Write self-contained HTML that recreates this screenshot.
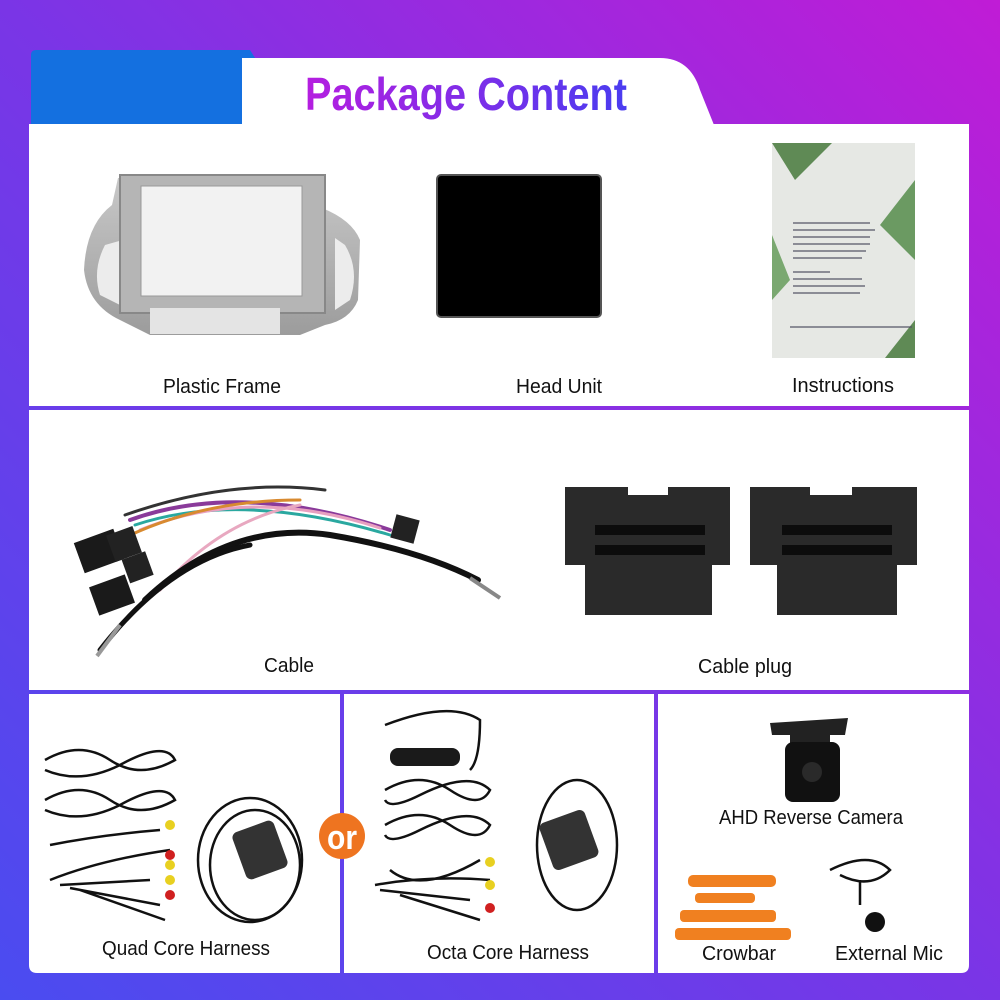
<!DOCTYPE html>
<html><head><meta charset="utf-8"><style>
html,body{margin:0;padding:0;width:1000px;height:1000px;overflow:hidden}
svg{display:block}
text{font-family:"Liberation Sans Narrow","Liberation Sans",sans-serif;font-size:20px;fill:#111;text-anchor:middle}
</style></head><body>
<svg width="1000" height="1000" viewBox="0 0 1000 1000" xmlns="http://www.w3.org/2000/svg">
<defs>
<linearGradient id="bg" x1="0" y1="1" x2="1" y2="0">
<stop offset="0" stop-color="#4a4cf0"/><stop offset="0.5" stop-color="#7a35e6"/><stop offset="1" stop-color="#c01cd6"/>
</linearGradient>
<linearGradient id="tt" x1="0" y1="0" x2="1" y2="0">
<stop offset="0" stop-color="#b51ee0"/><stop offset="1" stop-color="#4a3cf0"/>
</linearGradient>
<linearGradient id="silver" x1="0" y1="0" x2="0" y2="1">
<stop offset="0" stop-color="#c8c8c8"/><stop offset="1" stop-color="#9c9c9c"/>
</linearGradient>
</defs>
<rect width="1000" height="1000" fill="url(#bg)"/>
<path d="M31 55 Q31 50 36 50 L250 50 L255 58 L242 58 L242 125 L31 125 Z" fill="#1470e0"/>
<path d="M242 58 L660 58 Q690 58 700 90 L714 125 L242 125 Z" fill="#fff"/>
<text x="466" y="110" style="font-size:46px;font-weight:bold;fill:url(#tt)" textLength="322" lengthAdjust="spacingAndGlyphs">Package Content</text>
<rect x="29" y="124" width="940" height="282" fill="#fff"/>
<rect x="29" y="410" width="940" height="280" fill="#fff"/>
<path d="M29 694 L340 694 L340 973 L37 973 Q29 973 29 965 Z" fill="#fff"/>
<rect x="344" y="694" width="310" height="279" fill="#fff"/>
<path d="M658 694 L969 694 L969 965 Q969 973 961 973 L658 973 Z" fill="#fff"/>

<path d="M118 178 L318 178 L322 208 Q352 220 360 240 L358 300 Q350 320 325 325 L300 335 L150 335 L120 320 Q88 305 84 270 Q86 225 112 205 Z" fill="url(#silver)"/>
<path d="M105 245 Q92 270 100 295 L130 310 L130 238 Z" fill="#ececec"/>
<path d="M335 238 L335 310 L350 300 Q360 270 345 245 Z" fill="#ececec"/>
<rect x="120" y="175" width="205" height="138" fill="#b5b5b5" stroke="#888" stroke-width="2"/>
<rect x="141" y="186" width="161" height="110" fill="#f2f2f2" stroke="#999"/>
<rect x="150" y="308" width="130" height="26" fill="#e4e4e4"/>
<rect x="437" y="175" width="164" height="142" rx="4" fill="#000" stroke="#555" stroke-width="2"/>
<rect x="772" y="143" width="143" height="215" fill="#e6e8e4"/>
<polygon points="772,143 832,143 795,180" fill="#5f8a55"/>
<polygon points="915,180 915,260 880,225" fill="#6b9a62"/>
<polygon points="772,235 790,280 772,300" fill="#7aa870"/>
<polygon points="915,320 915,358 885,358" fill="#5f8a55"/>
<g stroke="#556" stroke-width="1.2">
<line x1="793" y1="223" x2="870" y2="223"/><line x1="793" y1="230" x2="875" y2="230"/><line x1="793" y1="237" x2="870" y2="237"/>
<line x1="793" y1="244" x2="870" y2="244"/><line x1="793" y1="251" x2="866" y2="251"/><line x1="793" y1="258" x2="862" y2="258"/>
<line x1="793" y1="272" x2="830" y2="272"/><line x1="793" y1="279" x2="862" y2="279"/><line x1="793" y1="286" x2="865" y2="286"/><line x1="793" y1="293" x2="860" y2="293"/>
<line x1="790" y1="327" x2="912" y2="327"/></g>
<text x="222" y="393" textLength="118" lengthAdjust="spacingAndGlyphs">Plastic Frame</text>
<text x="559" y="393" textLength="86" lengthAdjust="spacingAndGlyphs">Head Unit</text>
<text x="843" y="392" textLength="102" lengthAdjust="spacingAndGlyphs">Instructions</text>

<g fill="none" stroke-linecap="round">
<path d="M130 520 Q240 480 390 530" stroke="#8a3a9a" stroke-width="4"/>
<path d="M135 525 Q240 490 390 535" stroke="#2aa8a0" stroke-width="3"/>
<path d="M140 530 Q250 485 380 528" stroke="#e8a0c0" stroke-width="3"/>
<path d="M125 515 Q230 478 325 490" stroke="#333" stroke-width="3"/>
<path d="M120 540 Q200 500 300 500" stroke="#d88a30" stroke-width="3"/>
<path d="M160 590 Q220 520 300 505" stroke="#e8a8c0" stroke-width="3"/>
<path d="M145 600 Q230 520 330 535 Q420 550 478 580" stroke="#111" stroke-width="6"/>
<path d="M100 650 Q170 560 250 545" stroke="#111" stroke-width="5"/>
</g>
<rect x="393" y="517" width="24" height="24" fill="#222" transform="rotate(15 405 529)"/>
<rect x="78" y="535" width="42" height="32" fill="#1a1a1a" transform="rotate(-20 99 551)"/>
<rect x="110" y="530" width="28" height="28" fill="#222" transform="rotate(-20 124 544)"/>
<rect x="125" y="555" width="25" height="25" fill="#222" transform="rotate(-20 137 567)"/>
<rect x="93" y="580" width="38" height="30" fill="#1a1a1a" transform="rotate(-20 112 595)"/>
<line x1="470" y1="578" x2="500" y2="598" stroke="#888" stroke-width="4"/>
<line x1="120" y1="625" x2="97" y2="656" stroke="#999" stroke-width="4"/>
<path d="M565 487 L628 487 L628 495 L668 495 L668 487 L730 487 L730 565 L712 565 L712 615 L585 615 L585 565 L565 565 Z" fill="#2a2a2a"/>
<path d="M750 487 L810 487 L810 495 L852 495 L852 487 L917 487 L917 565 L897 565 L897 615 L777 615 L777 565 L750 565 Z" fill="#2a2a2a"/>
<g fill="#0c0c0c">
<rect x="595" y="525" width="110" height="10"/><rect x="595" y="545" width="110" height="10"/>
<rect x="782" y="525" width="110" height="10"/><rect x="782" y="545" width="110" height="10"/>
</g>
<text x="289" y="672" textLength="50" lengthAdjust="spacingAndGlyphs">Cable</text>
<text x="745" y="673" textLength="94" lengthAdjust="spacingAndGlyphs">Cable plug</text>

<g fill="none" stroke="#111" stroke-width="2.5">
<path d="M45 760 Q80 740 110 760 Q140 780 175 760 Q165 740 120 765 Q80 785 45 770"/>
<path d="M45 800 Q80 780 110 800 Q140 820 175 800 Q165 780 120 805 Q80 825 45 810"/>
<path d="M50 845 Q100 835 160 830"/>
<path d="M50 880 Q100 860 170 850 M60 885 L150 880 M70 888 L160 905 M80 890 L165 920"/>
<ellipse cx="250" cy="860" rx="52" ry="62" />
<ellipse cx="255" cy="865" rx="45" ry="55" />
<path d="M385 725 Q450 700 480 720 Q480 760 470 770"/>
<path d="M385 790 Q420 770 450 790 Q480 810 490 790 Q470 770 420 795 Q390 810 385 800"/>
<path d="M385 825 Q420 805 450 825 Q480 845 490 825 Q470 805 420 830 Q390 845 385 835"/>
<path d="M390 870 Q420 895 480 860"/>
<path d="M375 885 Q430 875 490 880 M380 890 L470 900 M400 895 L480 920"/>
<ellipse cx="577" cy="845" rx="40" ry="65"/>
<path d="M830 870 Q870 850 890 870 Q870 890 840 875 M860 880 L860 905"/>
</g>
<rect x="390" y="748" width="70" height="18" rx="8" fill="#1a1a1a"/>
<rect x="238" y="825" width="44" height="50" rx="6" fill="#333" transform="rotate(-20 260 850)"/>
<rect x="545" y="815" width="48" height="50" rx="6" fill="#333" transform="rotate(-20 569 840)"/>
<g fill="#e8d020"><circle cx="170" cy="825" r="5"/><circle cx="170" cy="865" r="5"/><circle cx="170" cy="880" r="5"/><circle cx="490" cy="862" r="5"/><circle cx="490" cy="885" r="5"/></g>
<g fill="#d02020"><circle cx="170" cy="855" r="5"/><circle cx="170" cy="895" r="5"/><circle cx="490" cy="908" r="5"/></g>
<circle cx="342" cy="836" r="23" fill="#ee7420"/>
<text x="342" y="849" style="font-size:34px;fill:#fff;font-weight:bold" textLength="30" lengthAdjust="spacingAndGlyphs">or</text>
<path d="M770 723 L848 718 L845 735 L830 735 L830 745 L790 745 L790 735 L772 735 Z" fill="#222"/>
<rect x="785" y="742" width="55" height="60" rx="8" fill="#111"/>
<circle cx="812" cy="772" r="10" fill="#2a2a2a"/>
<g fill="#f08020">
<rect x="688" y="875" width="88" height="12" rx="5"/>
<rect x="695" y="893" width="60" height="10" rx="4"/>
<rect x="680" y="910" width="96" height="12" rx="4"/>
<rect x="675" y="928" width="116" height="12" rx="4"/>
</g>
<circle cx="875" cy="922" r="10" fill="#111"/>
<text x="186" y="955" textLength="168" lengthAdjust="spacingAndGlyphs">Quad Core Harness</text>
<text x="508" y="959" textLength="162" lengthAdjust="spacingAndGlyphs">Octa Core Harness</text>
<text x="811" y="824" textLength="184" lengthAdjust="spacingAndGlyphs">AHD Reverse Camera</text>
<text x="739" y="960" textLength="74" lengthAdjust="spacingAndGlyphs">Crowbar</text>
<text x="889" y="960" textLength="108" lengthAdjust="spacingAndGlyphs">External Mic</text>
</svg>
</body></html>
